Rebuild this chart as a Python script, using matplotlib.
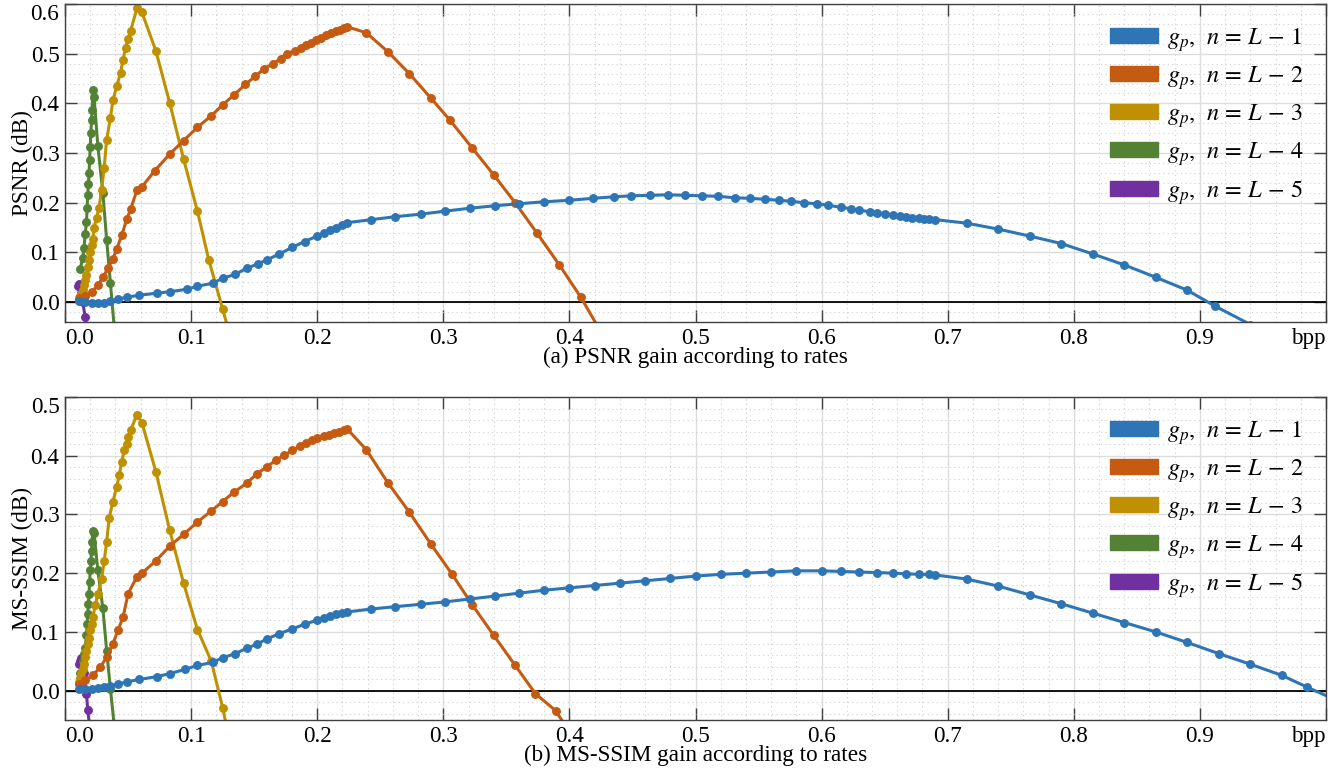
import matplotlib
matplotlib.use('Agg')
import matplotlib.pyplot as plt
from matplotlib.patches import Patch
from matplotlib.ticker import MultipleLocator

plt.rcParams['font.family'] = 'serif'
plt.rcParams['font.serif'] = ['Liberation Serif', 'DejaVu Serif']
plt.rcParams['mathtext.fontset'] = 'stix'

colors = ['#2E75B6', '#C55A11', '#BF9000', '#548235', '#7030A0']
labels = [r'$g_p,\;\, n \,=\, L \,-\, 1$', r'$g_p,\;\, n \,=\, L \,-\, 2$',
          r'$g_p,\;\, n \,=\, L \,-\, 3$', r'$g_p,\;\, n \,=\, L \,-\, 4$',
          r'$g_p,\;\, n \,=\, L \,-\, 5$']

# ---- (a) PSNR gain ----
psnr_l1_x = [0.011, 0.016, 0.021, 0.026, 0.031, 0.036, 0.042, 0.049, 0.059, 0.073, 0.083,
             0.097, 0.105, 0.117, 0.125, 0.135, 0.144, 0.153, 0.16, 0.17, 0.18, 0.19, 0.2,
             0.205, 0.21, 0.215, 0.22, 0.224, 0.243, 0.262, 0.282, 0.301, 0.321, 0.341, 0.36,
             0.38, 0.4, 0.419, 0.435, 0.449, 0.464, 0.478, 0.492, 0.505, 0.518, 0.531, 0.543,
             0.555, 0.566, 0.576, 0.586, 0.596, 0.605, 0.615, 0.623, 0.63, 0.638, 0.644, 0.65,
             0.657, 0.662, 0.667, 0.672, 0.677, 0.681, 0.685, 0.69, 0.715, 0.74, 0.765, 0.79,
             0.815, 0.84, 0.865, 0.89, 0.912, 0.94]
psnr_l1_y = [0.003, 0.0, -0.002, -0.002, -0.001, 0.002, 0.006, 0.01, 0.014, 0.018, 0.021,
             0.026, 0.032, 0.038, 0.048, 0.056, 0.068, 0.077, 0.085, 0.097, 0.11, 0.122, 0.133,
             0.139, 0.145, 0.15, 0.155, 0.16, 0.166, 0.172, 0.177, 0.183, 0.189, 0.194, 0.198,
             0.202, 0.205, 0.209, 0.212, 0.214, 0.215, 0.216, 0.215, 0.214, 0.213, 0.21, 0.209,
             0.207, 0.205, 0.203, 0.2, 0.198, 0.195, 0.191, 0.188, 0.185, 0.182, 0.18, 0.178,
             0.175, 0.173, 0.172, 0.17, 0.169, 0.168, 0.167, 0.166, 0.159, 0.147, 0.133, 0.118,
             0.097, 0.075, 0.05, 0.024, -0.008, -0.045]

psnr_l2_x = [0.011, 0.016, 0.021, 0.026, 0.03, 0.034, 0.038, 0.041, 0.045, 0.049, 0.052,
             0.057, 0.061, 0.071, 0.083, 0.094, 0.105, 0.116, 0.125, 0.134, 0.143, 0.151,
             0.158, 0.165, 0.171, 0.176, 0.182, 0.187, 0.191, 0.195, 0.199, 0.203, 0.207,
             0.211, 0.215, 0.218, 0.221, 0.224, 0.239, 0.256, 0.273, 0.29, 0.305, 0.323,
             0.34, 0.357, 0.374, 0.392, 0.409, 0.425]
psnr_l2_y = [0.008, 0.013, 0.02, 0.034, 0.05, 0.068, 0.087, 0.107, 0.135, 0.167, 0.187,
             0.225, 0.232, 0.264, 0.298, 0.325, 0.352, 0.375, 0.397, 0.417, 0.438, 0.455,
             0.47, 0.48, 0.49, 0.5, 0.506, 0.512, 0.517, 0.522, 0.527, 0.532, 0.537,
             0.541, 0.545, 0.548, 0.551, 0.554, 0.542, 0.504, 0.46, 0.411, 0.367, 0.31,
             0.256, 0.2, 0.14, 0.075, 0.01, -0.06]

psnr_l3_x = [0.011, 0.012, 0.013, 0.014, 0.015, 0.016, 0.017, 0.018, 0.019, 0.02, 0.021,
             0.022, 0.023, 0.025, 0.027, 0.029, 0.031, 0.033, 0.036, 0.038, 0.041, 0.044,
             0.046, 0.048, 0.05, 0.052, 0.057, 0.061, 0.072, 0.083, 0.094, 0.105, 0.114,
             0.125, 0.13]
psnr_l3_y = [0.005, 0.012, 0.017, 0.025, 0.035, 0.045, 0.055, 0.07, 0.085, 0.1, 0.115,
             0.127, 0.15, 0.17, 0.19, 0.226, 0.27, 0.327, 0.371, 0.407, 0.434, 0.462,
             0.488, 0.512, 0.53, 0.546, 0.591, 0.583, 0.506, 0.401, 0.288, 0.183, 0.085,
             -0.014, -0.06]

psnr_l4_x = [0.012, 0.014, 0.015, 0.016, 0.017, 0.0175, 0.018, 0.0185, 0.019, 0.0195,
             0.02, 0.0205, 0.021, 0.0215, 0.022, 0.023, 0.026, 0.03, 0.033, 0.036, 0.04]
psnr_l4_y = [0.066, 0.089, 0.108, 0.138, 0.161, 0.19, 0.216, 0.237, 0.26, 0.287, 0.313,
             0.341, 0.367, 0.387, 0.427, 0.413, 0.315, 0.22, 0.125, 0.038, -0.08]

psnr_l5_x = [0.01, 0.011, 0.012, 0.013, 0.014, 0.016, 0.018]
psnr_l5_y = [0.033, 0.036, 0.03, 0.018, 0.0, -0.03, -0.07]

# ---- (b) MS-SSIM gain ----
ssim_l1_x = [0.011, 0.016, 0.021, 0.026, 0.031, 0.036, 0.042, 0.049, 0.059, 0.073, 0.083,
             0.095, 0.105, 0.117, 0.125, 0.135, 0.144, 0.152, 0.16, 0.17, 0.18, 0.19, 0.2,
             0.205, 0.21, 0.215, 0.22, 0.224, 0.243, 0.262, 0.282, 0.301, 0.321, 0.341, 0.36,
             0.38, 0.4, 0.42, 0.44, 0.46, 0.48, 0.5, 0.52, 0.54, 0.56, 0.58, 0.6, 0.615, 0.63,
             0.644, 0.657, 0.667, 0.677, 0.685, 0.69, 0.715, 0.74, 0.765, 0.79, 0.815, 0.84,
             0.865, 0.89, 0.915, 0.94, 0.965, 0.985, 1.01]
ssim_l1_y = [0.002, 0.002, 0.003, 0.004, 0.006, 0.008, 0.011, 0.015, 0.019, 0.024, 0.029,
             0.036, 0.043, 0.048, 0.056, 0.063, 0.072, 0.079, 0.088, 0.097, 0.105, 0.113, 0.12,
             0.124, 0.127, 0.13, 0.132, 0.134, 0.139, 0.143, 0.147, 0.151, 0.156, 0.161, 0.166,
             0.171, 0.175, 0.179, 0.183, 0.187, 0.191, 0.195, 0.198, 0.2, 0.202, 0.204, 0.204,
             0.203, 0.202, 0.201, 0.2, 0.199, 0.198, 0.198, 0.197, 0.19, 0.178, 0.163, 0.148,
             0.132, 0.116, 0.1, 0.082, 0.063, 0.045, 0.026, 0.006, -0.018]

ssim_l2_x = [0.011, 0.016, 0.022, 0.028, 0.033, 0.038, 0.042, 0.046, 0.05, 0.057, 0.061,
             0.072, 0.083, 0.094, 0.105, 0.116, 0.125, 0.134, 0.144, 0.152, 0.16, 0.167,
             0.174, 0.18, 0.186, 0.191, 0.196, 0.2, 0.205, 0.209, 0.213, 0.217, 0.221,
             0.224, 0.239, 0.256, 0.273, 0.29, 0.307, 0.323, 0.34, 0.357, 0.373, 0.389, 0.4]
ssim_l2_y = [0.012, 0.018, 0.026, 0.04, 0.057, 0.08, 0.103, 0.125, 0.165, 0.194, 0.2,
             0.221, 0.246, 0.266, 0.287, 0.306, 0.322, 0.338, 0.353, 0.369, 0.381, 0.392,
             0.401, 0.409, 0.416, 0.421, 0.426, 0.43, 0.433, 0.436, 0.439, 0.441, 0.443,
             0.445, 0.41, 0.354, 0.304, 0.25, 0.198, 0.146, 0.094, 0.043, -0.005, -0.034, -0.07]

ssim_l3_x = [0.011, 0.012, 0.013, 0.014, 0.015, 0.016, 0.017, 0.018, 0.019, 0.02, 0.021,
             0.022, 0.024, 0.026, 0.029, 0.031, 0.033, 0.035, 0.038, 0.041, 0.043, 0.045,
             0.047, 0.049, 0.05, 0.052, 0.057, 0.061, 0.072, 0.083, 0.094, 0.105, 0.116,
             0.125, 0.13]
ssim_l3_y = [0.015, 0.022, 0.03, 0.037, 0.045, 0.057, 0.068, 0.08, 0.09, 0.103, 0.113,
             0.125, 0.145, 0.165, 0.19, 0.22, 0.253, 0.294, 0.322, 0.347, 0.367, 0.39,
             0.41, 0.42, 0.432, 0.443, 0.47, 0.456, 0.373, 0.273, 0.183, 0.104, 0.05,
             -0.029, -0.08]

ssim_l4_x = [0.012, 0.014, 0.015, 0.016, 0.017, 0.0175, 0.018, 0.0185, 0.019, 0.0195,
             0.02, 0.0205, 0.021, 0.0215, 0.022, 0.023, 0.026, 0.03, 0.033, 0.036, 0.04]
ssim_l4_y = [0.03, 0.05, 0.062, 0.073, 0.094, 0.114, 0.131, 0.148, 0.165, 0.185, 0.205,
             0.22, 0.238, 0.253, 0.272, 0.268, 0.205, 0.14, 0.068, 0.003, -0.08]

ssim_l5_x = [0.011, 0.012, 0.013, 0.015, 0.017, 0.018, 0.02]
ssim_l5_y = [0.045, 0.05, 0.055, 0.03, -0.005, -0.033, -0.07]

panels = [
    ([(psnr_l1_x, psnr_l1_y), (psnr_l2_x, psnr_l2_y), (psnr_l3_x, psnr_l3_y),
      (psnr_l4_x, psnr_l4_y), (psnr_l5_x, psnr_l5_y)],
     'PSNR (dB)', '(a) PSNR gain according to rates', (-0.04, 0.6), 0.6,
     [0.0485, 0.5807, 0.9403, 0.4141]),
    ([(ssim_l1_x, ssim_l1_y), (ssim_l2_x, ssim_l2_y), (ssim_l3_x, ssim_l3_y),
      (ssim_l4_x, ssim_l4_y), (ssim_l5_x, ssim_l5_y)],
     'MS-SSIM (dB)', '(b) MS-SSIM gain according to rates', (-0.05, 0.5), 0.5,
     [0.0485, 0.0625, 0.9403, 0.4206]),
]

fig = plt.figure(figsize=(13.41, 7.68), dpi=100)

xticks = [i / 10 for i in range(11)]
xlabels = ['%.1f' % t for t in xticks[:-1]] + ['bpp']

for series, ylab, caption, ylim, ytop, rect in panels:
    ax = fig.add_axes(rect)
    # 从后往前画，让蓝线在最上面
    for (x, y), c in reversed(list(zip(series, colors))):
        ax.plot(x, y, '-o', color=c, lw=2.2, markersize=5.4)
    ax.axhline(0, color='black', lw=1.3, zorder=1.5)

    ax.set_xlim(0, 1.0)
    ax.set_ylim(*ylim)
    ax.set_xticks(xticks)
    ax.set_xticklabels(xlabels)
    ax.get_xticklabels()[0].set_ha('left')
    ax.get_xticklabels()[-1].set_ha('right')
    yt = [i / 10 for i in range(int(round(ytop * 10)) + 1)]
    ax.set_yticks(yt)
    ax.set_yticklabels(['%.1f' % t for t in yt])
    ax.get_yticklabels()[-1].set_va('top')
    ax.xaxis.set_minor_locator(MultipleLocator(0.02))
    ax.yaxis.set_minor_locator(MultipleLocator(0.02))

    ax.grid(which='major', color='#dddddd', lw=1.0)
    ax.grid(which='minor', color='#cfcfcf', lw=0.8, ls=(0, (1, 3)))
    ax.set_axisbelow(True)
    ax.tick_params(which='major', direction='in', length=8.5, width=1, color='#404040',
                   top=True, right=True, labelsize=16.7, pad=4)
    ax.tick_params(which='minor', length=0)
    for s in ax.spines.values():
        s.set_color('#404040')
        s.set_linewidth(1)

    ax.set_ylabel(ylab, fontsize=16.7)
    ax.yaxis.set_label_coords(-0.0255, 0.5)
    ax.set_xlabel(caption, fontsize=16.7, labelpad=-1)

    handles = [Patch(color=c) for c in colors]
    ax.legend(handles, labels, loc='upper right', frameon=False, fontsize=17.5,
              handlelength=2.0, handleheight=0.55, labelspacing=0.42,
              borderaxespad=0.5, handletextpad=0.35)

fig.savefig('out.png', dpi=100)
